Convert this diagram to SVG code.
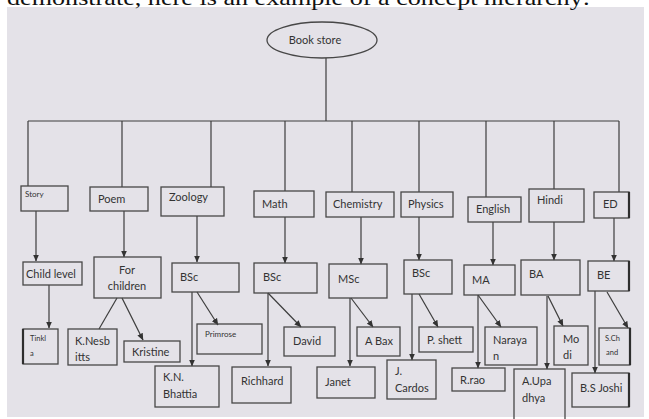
<svg xmlns="http://www.w3.org/2000/svg" width="649" height="419" viewBox="0 0 649 419">
<defs>
<style>
.bg{fill:#e4e2e8}
.box{fill:none;stroke:#474747;stroke-width:1.3}
.thick{stroke:#2e2e2e;stroke-width:2.2}
.ln{stroke:#3d3d3d;stroke-width:1.2;fill:none}
.ar{stroke:#3d3d3d;stroke-width:1.2;fill:none;marker-end:url(#ah)}
.t{font-family:Lato,"Open Sans","Liberation Sans",sans-serif;fill:#333333;font-size:11px}
.s{font-size:8px}
.xs{font-size:7.5px}
.hdr{font-family:"Liberation Serif","Times New Roman",serif;font-size:22px;fill:#111}
</style>
<marker id="ah" markerUnits="userSpaceOnUse" markerWidth="7" markerHeight="7" viewBox="0 0 7 7" refX="6.5" refY="3.5" orient="auto">
<path d="M0,0.5 L7,3.5 L0,6.5 Z" fill="#333"/>
</marker>
</defs>
<rect x="0" y="0" width="649" height="419" fill="#ffffff"/>
<rect class="bg" x="7" y="7" width="637" height="410"/>
<text class="hdr" x="7" y="5" textLength="583" lengthAdjust="spacingAndGlyphs">demonstrate, here is an example of a concept hierarchy:</text>

<g id="connectors">
<line class="ln" x1="326" y1="58" x2="326" y2="121"/>
<line class="ln" x1="28" y1="121" x2="619" y2="121"/>
<line class="ln" x1="28" y1="121" x2="28" y2="186"/>
<line class="ln" x1="122" y1="121" x2="122" y2="187"/>
<line class="ln" x1="211" y1="121" x2="211" y2="187"/>
<line class="ln" x1="285" y1="121" x2="285" y2="191"/>
<line class="ln" x1="352" y1="121" x2="352" y2="192"/>
<line class="ln" x1="419" y1="121" x2="419" y2="192"/>
<line class="ln" x1="486" y1="121" x2="486" y2="197"/>
<line class="ln" x1="554" y1="121" x2="554" y2="189"/>
<line class="ln" x1="619" y1="121" x2="619" y2="192"/>

<line class="ar" x1="36" y1="211" x2="36" y2="261"/>
<line class="ar" x1="124" y1="211" x2="124" y2="257"/>
<line class="ar" x1="197" y1="216" x2="197" y2="262"/>
<line class="ar" x1="285" y1="217" x2="285" y2="263"/>
<line class="ar" x1="361" y1="217" x2="361" y2="264"/>
<line class="ar" x1="419" y1="217" x2="419" y2="260"/>
<line class="ar" x1="493" y1="222" x2="493" y2="265"/>
<line class="ar" x1="554" y1="222" x2="554" y2="260"/>
<line class="ar" x1="614" y1="218" x2="614" y2="261"/>

<line class="ar" x1="49" y1="285" x2="49" y2="328"/>
<line class="ln" x1="117" y1="298" x2="99" y2="329"/>
<line class="ar" x1="122" y1="298" x2="143" y2="340"/>
<line class="ar" x1="197" y1="292" x2="218" y2="325"/>
<line class="ar" x1="192" y1="292" x2="192" y2="366"/>
<line class="ar" x1="268" y1="293" x2="301" y2="327"/>
<line class="ar" x1="268" y1="293" x2="268" y2="366"/>
<line class="ar" x1="351" y1="298" x2="373" y2="327"/>
<line class="ar" x1="350" y1="298" x2="350" y2="366"/>
<line class="ar" x1="419" y1="294" x2="438" y2="327"/>
<line class="ar" x1="412" y1="294" x2="412" y2="360"/>
<line class="ar" x1="478" y1="295" x2="501" y2="327"/>
<line class="ar" x1="478" y1="295" x2="478" y2="368"/>
<line class="ar" x1="548" y1="296" x2="563" y2="326"/>
<line class="ar" x1="547" y1="296" x2="547" y2="369"/>
<line class="ar" x1="607" y1="292" x2="628" y2="328"/>
<line class="ar" x1="595" y1="291" x2="595" y2="373"/>
</g>

<g id="book-store">
<ellipse cx="322" cy="40" rx="55" ry="18" fill="none" stroke="#474747" stroke-width="1.3"/>
<text class="t" x="315" y="44" text-anchor="middle" font-size="10">Book store</text>
</g>

<g id="story"><rect class="box" x="21" y="186" width="47" height="25"/><text class="t s" x="25" y="197">Story</text></g>
<g id="poem"><rect class="box" x="90" y="187" width="58" height="24"/><text class="t" x="98" y="203">Poem</text></g>
<g id="zoology"><rect class="box" x="161" y="187" width="63" height="29"/><text class="t" x="169" y="201">Zoology</text></g>
<g id="math"><rect class="box" x="254" y="191" width="60" height="26"/><text class="t" x="262" y="208">Math</text></g>
<g id="chemistry"><rect class="box" x="326" y="192" width="68" height="25"/><text class="t" x="333" y="208">Chemistry</text></g>
<g id="physics"><rect class="box" x="401" y="192" width="52" height="25"/><text class="t" x="408" y="208">Physics</text></g>
<g id="english"><rect class="box" x="468" y="197" width="53" height="25"/><text class="t" x="476" y="213">English</text></g>
<g id="hindi"><rect class="box" x="529" y="189" width="55" height="33"/><text class="t" x="537" y="204">Hindi</text></g>
<g id="ed"><rect class="box" x="594" y="192" width="35" height="26"/><line class="thick" x1="629" y1="192" x2="629" y2="218"/><text class="t" x="603" y="208">ED</text></g>

<g id="child-level"><rect class="box" x="23" y="262" width="59" height="23"/><text class="t" x="26" y="278">Child level</text></g>
<g id="for-children"><rect class="box" x="94" y="257" width="67" height="41"/><text class="t" x="127" y="274" text-anchor="middle">For</text><text class="t" x="127" y="290" text-anchor="middle">children</text></g>
<g id="bsc-zoology"><rect class="box" x="172" y="263" width="67" height="29"/><text class="t" x="180" y="281">BSc</text></g>
<g id="bsc-math"><rect class="box" x="254" y="263" width="63" height="30"/><text class="t" x="263" y="281">BSc</text></g>
<g id="msc-chemistry"><rect class="box" x="329" y="264" width="58" height="34"/><text class="t" x="338" y="283">MSc</text></g>
<g id="bsc-physics"><rect class="box" x="404" y="260" width="48" height="34"/><text class="t" x="412" y="277">BSc</text></g>
<g id="ma-english"><rect class="box" x="464" y="265" width="51" height="30"/><text class="t" x="472" y="284">MA</text></g>
<g id="ba-hindi"><rect class="box" x="521" y="260" width="59" height="35"/><text class="t" x="529" y="278">BA</text></g>
<g id="be-ed"><rect class="box" x="588" y="261" width="41" height="30"/><line class="thick" x1="629" y1="261" x2="629" y2="291"/><text class="t" x="597" y="279">BE</text></g>

<g id="tinkla"><rect class="box" x="23" y="329" width="35" height="35"/><line class="thick" x1="23" y1="329" x2="23" y2="364"/><text class="t xs" x="30" y="341">Tinkl</text><text class="t xs" x="30" y="356">a</text></g>
<g id="k-nesbitts"><rect class="box" x="68" y="329" width="49" height="36"/><text class="t" x="75" y="345">K.Nesb</text><text class="t" x="75" y="361">itts</text></g>
<g id="kristine"><rect class="box" x="124" y="341" width="56" height="21"/><text class="t" x="132" y="356">Kristine</text></g>
<g id="primrose"><rect class="box" x="197" y="324" width="65" height="30"/><text class="t s" x="205" y="337">Primrose</text></g>
<g id="kn-bhattia"><rect class="box" x="155" y="366" width="64" height="41"/><text class="t" x="163" y="381">K.N.</text><text class="t" x="163" y="398">Bhattia</text></g>
<g id="david"><rect class="box" x="284" y="327" width="51" height="29"/><text class="t" x="293" y="345">David</text></g>
<g id="richhard"><rect class="box" x="232" y="367" width="59" height="36"/><text class="t" x="241" y="385">Richhard</text></g>
<g id="a-bax"><rect class="box" x="357" y="327" width="43" height="29"/><text class="t" x="365" y="345">A Bax</text></g>
<g id="janet"><rect class="box" x="317" y="367" width="58" height="31"/><text class="t" x="325" y="386">Janet</text></g>
<g id="p-shett"><rect class="box" x="419" y="327" width="54" height="25"/><text class="t" x="427" y="344">P. shett</text></g>
<g id="j-cardos"><rect class="box" x="387" y="360" width="49" height="39"/><text class="t" x="395" y="375">J.</text><text class="t" x="395" y="392">Cardos</text></g>
<g id="narayan"><rect class="box" x="485" y="327" width="52" height="38"/><text class="t" x="493" y="344">Naraya</text><text class="t" x="493" y="360">n</text></g>
<g id="r-rao"><rect class="box" x="452" y="368" width="53" height="23"/><text class="t" x="460" y="384">R.rao</text></g>
<g id="modi"><rect class="box" x="554" y="326" width="34" height="39"/><text class="t" x="563" y="343">Mo</text><text class="t" x="563" y="359">di</text></g>
<g id="a-upadhya"><rect class="box" x="514" y="369" width="51" height="52"/><text class="t" x="522" y="385">A.Upa</text><text class="t" x="522" y="402">dhya</text></g>
<g id="s-chand"><rect class="box" x="599" y="328" width="31" height="37"/><line class="thick" x1="630" y1="328" x2="630" y2="365"/><text class="t xs" x="605" y="341">S.Ch</text><text class="t xs" x="606" y="355">and</text></g>
<g id="bs-joshi"><rect class="box" x="572" y="373" width="57" height="34"/><line class="thick" x1="629" y1="373" x2="629" y2="407"/><text class="t" x="580" y="392">B.S Joshi</text></g>
</svg>
